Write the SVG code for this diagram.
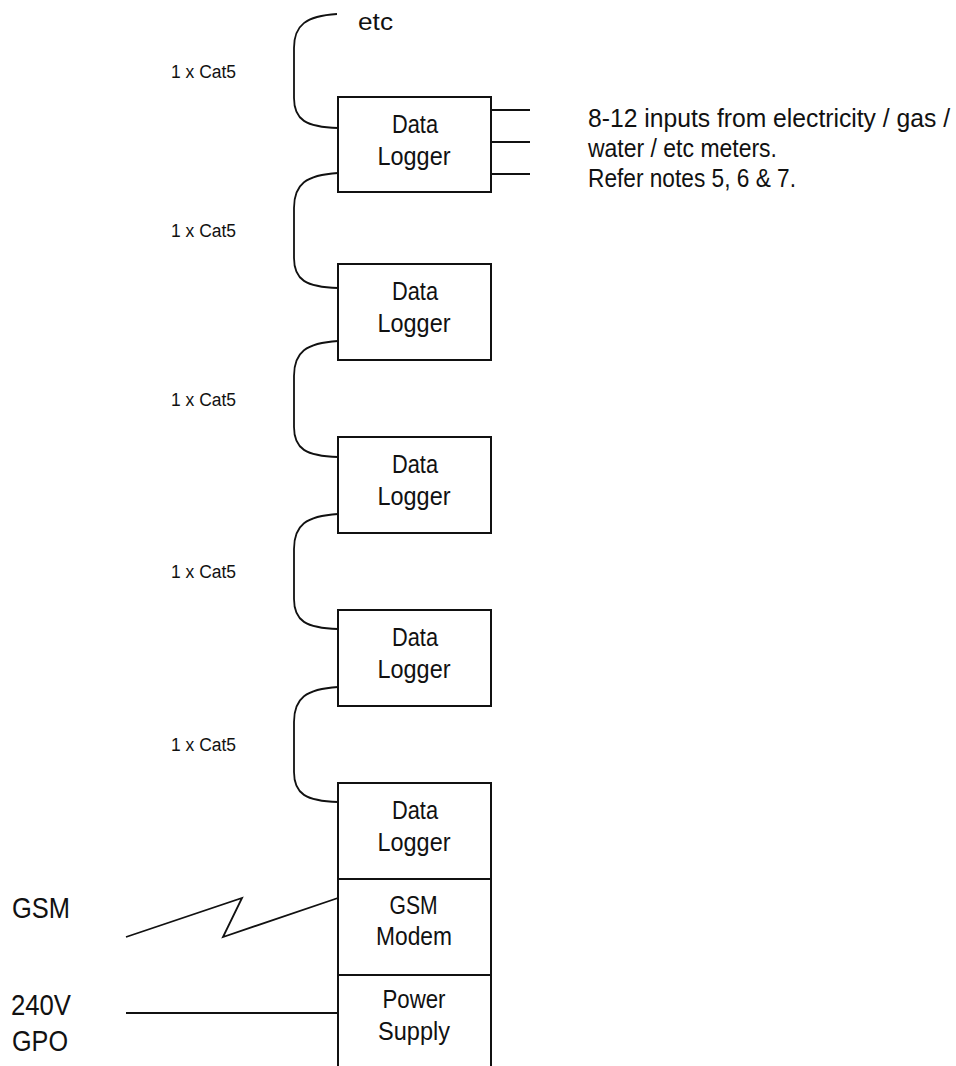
<svg xmlns="http://www.w3.org/2000/svg" width="956" height="1066" viewBox="0 0 956 1066">
<style>
.box{fill:#fff;stroke:#111;stroke-width:2}
.ln{fill:none;stroke:#111;stroke-width:1.8}
text{font-family:"Liberation Sans",Arial,sans-serif;fill:#111}
.t{font-size:25px;text-anchor:middle}
.big{font-size:30px}
.note{font-size:25px}
.cat{font-size:18px}
</style>
<rect width="956" height="1066" fill="#fff"/>
<g id="connectors">
<path class="ln" d="M337,14 C306,16 294,25 294,48 L294,98 C294,120 306,127 338,128"/>
<path class="ln" d="M338,173 C306,175 294,184 294,208 L294,258 C294,280 306,287 338,288"/>
<path class="ln" d="M338,341 C306,343 294,352 294,376 L294,427 C294,449 306,456 338,457"/>
<path class="ln" d="M338,514 C306,516 294,525 294,549 L294,599 C294,621 306,628 338,629"/>
<path class="ln" d="M338,687 C306,689 294,698 294,722 L294,772 C294,794 306,801 338,802"/>
<path class="ln" d="M492,110 L530,110 M492,142 L530,142 M492,174 L530,174"/>
<path class="ln" d="M126,937 L242,898 L223,937 L338,898"/>
<path class="ln" d="M126,1013 L338,1013"/>
</g>
<g id="cat-labels">
<text class="cat" x="171" y="77.5" textLength="65" lengthAdjust="spacingAndGlyphs">1 x Cat5</text>
<text class="cat" x="171" y="236.5" textLength="65" lengthAdjust="spacingAndGlyphs">1 x Cat5</text>
<text class="cat" x="171" y="405.5" textLength="65" lengthAdjust="spacingAndGlyphs">1 x Cat5</text>
<text class="cat" x="171" y="577.5" textLength="65" lengthAdjust="spacingAndGlyphs">1 x Cat5</text>
<text class="cat" x="171" y="750.5" textLength="65" lengthAdjust="spacingAndGlyphs">1 x Cat5</text>
</g>
<g id="etc"><text x="358" y="29.5" style="font-size:23px" textLength="35" lengthAdjust="spacingAndGlyphs">etc</text></g>
<g id="logger1">
<rect class="box" x="338" y="97" width="153" height="95"/>
<text class="t" x="415" y="133" textLength="46" lengthAdjust="spacingAndGlyphs">Data</text>
<text class="t" x="414" y="165" textLength="73" lengthAdjust="spacingAndGlyphs">Logger</text>
</g>
<g id="logger2">
<rect class="box" x="338" y="264" width="153" height="96"/>
<text class="t" x="415" y="300" textLength="46" lengthAdjust="spacingAndGlyphs">Data</text>
<text class="t" x="414" y="332" textLength="73" lengthAdjust="spacingAndGlyphs">Logger</text>
</g>
<g id="logger3">
<rect class="box" x="338" y="437" width="153" height="96"/>
<text class="t" x="415" y="473" textLength="46" lengthAdjust="spacingAndGlyphs">Data</text>
<text class="t" x="414" y="505" textLength="73" lengthAdjust="spacingAndGlyphs">Logger</text>
</g>
<g id="logger4">
<rect class="box" x="338" y="610" width="153" height="96"/>
<text class="t" x="415" y="646" textLength="46" lengthAdjust="spacingAndGlyphs">Data</text>
<text class="t" x="414" y="678" textLength="73" lengthAdjust="spacingAndGlyphs">Logger</text>
</g>
<g id="logger5">
<rect class="box" x="338" y="783" width="153" height="96"/>
<text class="t" x="415" y="819" textLength="46" lengthAdjust="spacingAndGlyphs">Data</text>
<text class="t" x="414" y="851" textLength="73" lengthAdjust="spacingAndGlyphs">Logger</text>
</g>
<g id="gsm-modem">
<rect class="box" x="338" y="879" width="153" height="96"/>
<text class="t" x="413.5" y="914" textLength="48" lengthAdjust="spacingAndGlyphs">GSM</text>
<text class="t" x="414" y="945" textLength="76" lengthAdjust="spacingAndGlyphs">Modem</text>
</g>
<g id="power-supply">
<path class="box" d="M338,1070 L338,975 L491,975 L491,1070"/>
<text class="t" x="414" y="1008" textLength="63" lengthAdjust="spacingAndGlyphs">Power</text>
<text class="t" x="414" y="1040" textLength="72" lengthAdjust="spacingAndGlyphs">Supply</text>
</g>
<g id="inputs-note">
<text class="note" x="588" y="126.5" textLength="362" lengthAdjust="spacingAndGlyphs">8-12 inputs from electricity / gas /</text>
<text class="note" x="588" y="156.5" textLength="189" lengthAdjust="spacingAndGlyphs">water / etc meters.</text>
<text class="note" x="588" y="186.5" textLength="208" lengthAdjust="spacingAndGlyphs">Refer notes 5, 6 &amp; 7.</text>
</g>
<g id="gsm-label"><text class="big" x="12" y="918" textLength="58" lengthAdjust="spacingAndGlyphs">GSM</text></g>
<g id="gpo-label">
<text class="big" x="11" y="1015" textLength="60" lengthAdjust="spacingAndGlyphs">240V</text>
<text class="big" x="12" y="1051" textLength="56" lengthAdjust="spacingAndGlyphs">GPO</text>
</g>
</svg>
